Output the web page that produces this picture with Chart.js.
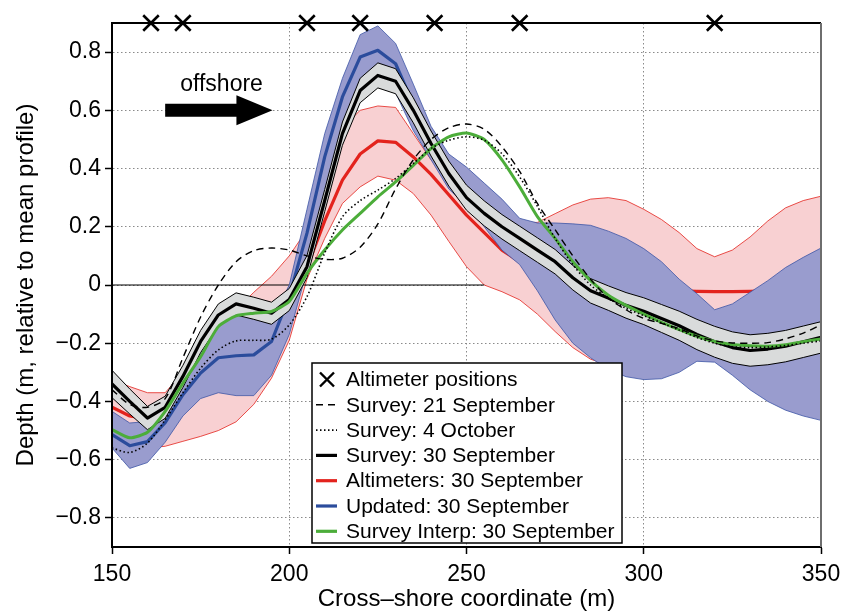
<!DOCTYPE html>
<html>
<head>
<meta charset="utf-8">
<title>Cross-shore depth profiles</title>
<script src="https://cdn.jsdelivr.net/npm/chart.js@4.4.1/dist/chart.umd.min.js"></script>
<style>
  html, body { margin: 0; padding: 0; background: #fff; }
  #wrap { width: 842px; height: 615px; }
</style>
</head>
<body>
<div id="wrap"><canvas id="profile"></canvas></div>
<script>
// cross-shore positions (m) of the profile samples
const xPos = [150, 155, 160, 165, 170, 175, 180, 185, 190, 195,
              200, 205, 210, 215, 220, 225, 230, 235, 240, 245,
              250, 255, 260, 265, 270, 275, 280, 285, 290, 295,
              300, 305, 310, 315, 320, 325, 330, 335, 340, 345, 350];
const altimeterX = [161, 170, 205, 220, 241, 265, 320];
const xTicks = [150, 200, 250, 300, 350];
const yTicks = [-0.8, -0.6, -0.4, -0.2, 0, 0.2, 0.4, 0.6, 0.8];

// depth relative to mean profile (m)
const survey21Sep = [-0.36, -0.41, -0.42, -0.39, -0.25, -0.11, 0.0, 0.08, 0.118, 0.127,
                     0.12, 0.1, 0.088, 0.092, 0.13, 0.21, 0.33, 0.43, 0.5, 0.54,
                     0.553, 0.535, 0.475, 0.39, 0.28, 0.19, 0.1, 0.02, -0.045, -0.085,
                     -0.115, -0.132, -0.15, -0.175, -0.192, -0.199, -0.2, -0.198, -0.185, -0.165, -0.137];
const survey4Oct = [-0.56, -0.575, -0.543, -0.463, -0.37, -0.286, -0.223, -0.192, -0.19, -0.186,
                    -0.137, -0.04, 0.11, 0.234, 0.29, 0.326, 0.366, 0.417, 0.469, 0.497,
                    0.509, 0.497, 0.451, 0.371, 0.27, 0.16, 0.07, 0.0, -0.045, -0.08,
                    -0.105, -0.13, -0.155, -0.18, -0.2, -0.212, -0.215, -0.213, -0.208, -0.2, -0.192];
const survey30Sep = [-0.34, -0.40, -0.457, -0.42, -0.314, -0.194, -0.103, -0.065, -0.08, -0.097,
                     -0.05, 0.063, 0.29, 0.52, 0.668, 0.72, 0.70, 0.60, 0.486, 0.383,
                     0.30, 0.246, 0.2, 0.16, 0.12, 0.08, 0.025, -0.02, -0.045, -0.07,
                     -0.09, -0.115, -0.14, -0.17, -0.195, -0.215, -0.225, -0.22, -0.21, -0.195, -0.18];
const surveyErr = [0.047, 0.043, 0.04, 0.038, 0.038, 0.038, 0.038, 0.038, 0.038, 0.038,
                   0.038, 0.038, 0.038, 0.04, 0.042, 0.043, 0.043, 0.043, 0.043, 0.043,
                   0.043, 0.043, 0.042, 0.042, 0.042, 0.042, 0.042, 0.042, 0.042, 0.044,
                   0.046, 0.048, 0.05, 0.052, 0.053, 0.054, 0.054, 0.054, 0.054, 0.054, 0.054];
const altimeters = [-0.42, -0.45, -0.46, -0.42, -0.32, -0.2, -0.11, -0.07, -0.08, -0.09,
                    -0.05, 0.06, 0.22, 0.36, 0.45, 0.495, 0.49, 0.44, 0.38, 0.31,
                    0.24, 0.18, 0.12, 0.08, 0.04, 0.01, -0.01, -0.02, -0.02, -0.02,
                    -0.02, -0.02, -0.02, -0.022, -0.023, -0.023, -0.022, -0.02, -0.02, -0.02, -0.02];
const altUpper = [-0.326, -0.349, -0.37, -0.37, -0.3, -0.22, -0.15, -0.085, -0.025, 0.03,
                  0.1, 0.19, 0.36, 0.54, 0.6, 0.615, 0.61, 0.52, 0.43, 0.36,
                  0.3, 0.26, 0.23, 0.215, 0.215, 0.245, 0.275, 0.295, 0.3, 0.29,
                  0.26, 0.225, 0.18, 0.125, 0.097, 0.12, 0.165, 0.22, 0.265, 0.29, 0.305];
const altLower = [-0.48, -0.53, -0.56, -0.554, -0.537, -0.52, -0.5, -0.47, -0.41, -0.32,
                  -0.19, 0.02, 0.16, 0.28, 0.337, 0.374, 0.36, 0.314, 0.24, 0.15,
                  0.063, 0.0, -0.023, -0.051, -0.1, -0.16, -0.215, -0.255, -0.275, -0.28,
                  -0.28, -0.27, -0.25, -0.23, -0.22, -0.22, -0.22, -0.22, -0.22, -0.22, -0.22];
const updated = [-0.514, -0.552, -0.538, -0.473, -0.377, -0.302, -0.25, -0.243, -0.24, -0.194,
                 -0.04, 0.178, 0.44, 0.646, 0.783, 0.806, 0.76, 0.62, 0.5, 0.39,
                 0.3, 0.24, 0.2, 0.16, 0.12, 0.08, 0.03, -0.02, -0.05, -0.075,
                 -0.095, -0.12, -0.145, -0.17, -0.19, -0.21, -0.22, -0.215, -0.205, -0.19, -0.175];
const updUpper = [-0.434, -0.474, -0.469, -0.45, -0.35, -0.23, -0.14, -0.1, -0.11, -0.12,
                  0.0, 0.26, 0.52, 0.71, 0.86, 0.89, 0.83, 0.69, 0.545, 0.45,
                  0.405, 0.35, 0.295, 0.229, 0.213, 0.213, 0.21, 0.205, 0.185, 0.16,
                  0.125, 0.08, 0.02, -0.03, -0.085, -0.065, -0.025, 0.015, 0.06, 0.095, 0.127];
const updLower = [-0.56, -0.63, -0.61, -0.54, -0.45, -0.39, -0.37, -0.38, -0.38, -0.31,
                  -0.17, 0.05, 0.3, 0.52, 0.66, 0.69, 0.66, 0.53, 0.43, 0.33,
                  0.27, 0.2, 0.12, 0.07, -0.02, -0.12, -0.2, -0.25, -0.29, -0.315,
                  -0.325, -0.322, -0.3, -0.262, -0.265, -0.31, -0.36, -0.4, -0.43, -0.45, -0.465];
const surveyInterp = [-0.497, -0.525, -0.506, -0.434, -0.337, -0.246, -0.143, -0.106, -0.097, -0.091,
                      -0.057, 0.04, 0.12, 0.189, 0.246, 0.303, 0.354, 0.411, 0.469, 0.509,
                      0.522, 0.5, 0.43, 0.337, 0.235, 0.16, 0.08, 0.015, -0.035, -0.07,
                      -0.1, -0.128, -0.153, -0.176, -0.194, -0.204, -0.209, -0.21, -0.205, -0.195, -0.185];
const zeroLineX = [150, 255];

const legendLabels = ['Altimeter positions', 'Survey: 21 September', 'Survey: 4 October',
  'Survey: 30 September', 'Altimeters: 30 September', 'Updated: 30 September',
  'Survey Interp: 30 September'];

const FONT = "'Liberation Sans', Arial, Helvetica, sans-serif";
Chart.defaults.font.family = FONT;
Chart.defaults.color = '#000';

const RED = '#e3231d', BLUE = '#2b4c9c', GREEN = '#4cad3a';

const pts = ys => ys.map((y, i) => ({ x: xPos[i], y }));
const plusErr = (c, e, s) => c.map((v, i) => v + s * e[i]);

function line(label, ys, extra) {
  return Object.assign({
    label, data: pts(ys), pointRadius: 0, fill: false, tension: 0,
    borderJoinStyle: 'round', borderCapStyle: 'round'
  }, extra);
}

const datasets = [
  // altimeter band (pink)
  line('altUpper', altUpper, { borderColor: RED, borderWidth: 0.8, backgroundColor: 'rgb(248,208,210)', fill: '+1', order: 100 }),
  line('altLower', altLower, { borderColor: RED, borderWidth: 0.8, order: 99 }),
  { label: 'zero', data: zeroLineX.map(x => ({ x, y: 0 })), borderColor: '#000', borderWidth: 1.2, pointRadius: 0, fill: false, order: 95 },
  line('Altimeters: 30 September', altimeters, { borderColor: RED, borderWidth: 3.2, order: 90 }),
  // updated band (blue)
  line('updUpper', updUpper, { borderColor: '#3d56a6', borderWidth: 0.8, backgroundColor: 'rgb(153,156,206)', fill: '+1', order: 80 }),
  line('updLower', updLower, { borderColor: '#3d56a6', borderWidth: 0.8, order: 79 }),
  line('Updated: 30 September', updated, { borderColor: BLUE, borderWidth: 3.2, order: 70 }),
  // survey band (grey)
  line('surveyUpper', plusErr(survey30Sep, surveyErr, 1), { borderColor: '#000', borderWidth: 1, backgroundColor: '#d9dbdb', fill: '+1', order: 60 }),
  line('surveyLower', plusErr(survey30Sep, surveyErr, -1), { borderColor: '#000', borderWidth: 1, order: 59 }),
  line('Survey: 30 September', survey30Sep, { borderColor: '#000', borderWidth: 3.2, order: 50 }),
  line('Survey Interp: 30 September', surveyInterp, { borderColor: GREEN, borderWidth: 3, tension: 0.2, order: 40 }),
  line('Survey: 4 October', survey4Oct, { borderColor: '#000', borderWidth: 1.6, borderDash: [1.5, 2.5], borderCapStyle: 'butt', tension: 0.3, order: 30 }),
  line('Survey: 21 September', survey21Sep, { borderColor: '#000', borderWidth: 1.4, borderDash: [7, 5], borderCapStyle: 'butt', tension: 0.3, order: 20 }),
  {
    label: 'Altimeter positions', data: altimeterX.map(x => ({ x, y: 0.9 })),
    showLine: false, pointStyle: 'crossRot', pointRadius: 11, pointBorderWidth: 2.6,
    borderColor: '#000', pointBorderColor: '#000', clip: false, order: 10
  }
];

// frame, arrow and "offshore" note over the data
const decorations = {
  id: 'decorations',
  afterDatasetsDraw(chart) {
    const { ctx, chartArea: a, scales: { x, y } } = chart;
    ctx.save();
    ctx.lineWidth = 2;
    ctx.strokeStyle = '#000';
    ctx.beginPath();
    ctx.moveTo(a.left, a.top); ctx.lineTo(a.right, a.top);
    ctx.moveTo(a.left, a.top); ctx.lineTo(a.left, a.bottom); ctx.lineTo(a.right, a.bottom);
    ctx.stroke();
    ctx.strokeStyle = '#6e6e6e';
    ctx.beginPath(); ctx.moveTo(a.right, a.top); ctx.lineTo(a.right, a.bottom); ctx.stroke();

    // offshore arrow
    const x0 = x.getPixelForValue(165), xb = x.getPixelForValue(185.1), xt = x.getPixelForValue(195.3);
    const yc = y.getPixelForValue(0.6);
    ctx.fillStyle = '#000';
    ctx.beginPath();
    ctx.moveTo(x0, yc - 6.5); ctx.lineTo(xb, yc - 6.5); ctx.lineTo(xb, yc - 15);
    ctx.lineTo(xt, yc); ctx.lineTo(xb, yc + 15); ctx.lineTo(xb, yc + 6.5);
    ctx.lineTo(x0, yc + 6.5); ctx.closePath(); ctx.fill();
    ctx.font = '23px ' + FONT;
    ctx.textAlign = 'center';
    ctx.textBaseline = 'alphabetic';
    ctx.fillText('offshore', x.getPixelForValue(180.9), y.getPixelForValue(0.668));
    ctx.restore();
  }
};

// legend box inside the plot area
const legendBox = {
  id: 'legendBox',
  afterDraw(chart) {
    const ctx = chart.ctx;
    const bx = 312, by = 363, bw = 310, bh = 180;
    ctx.save();
    ctx.fillStyle = '#fff';
    ctx.fillRect(bx, by, bw, bh);
    ctx.strokeStyle = '#000';
    ctx.lineWidth = 1.5;
    ctx.strokeRect(bx, by, bw, bh);
    ctx.font = '21px ' + FONT;
    ctx.textBaseline = 'middle';
    ctx.textAlign = 'left';
    legendLabels.forEach((lab, i) => {
      const yy = by + 16.5 + i * 25.3;
      const ds = chart.data.datasets.find(d => d.label === lab);
      ctx.save();
      ctx.strokeStyle = ds.borderColor;
      if (ds.pointStyle === 'crossRot') {
        ctx.lineWidth = 2.4;
        ctx.beginPath();
        ctx.moveTo(320, yy - 7); ctx.lineTo(334, yy + 7);
        ctx.moveTo(334, yy - 7); ctx.lineTo(320, yy + 7);
        ctx.stroke();
      } else {
        ctx.lineWidth = ds.borderDash ? ds.borderWidth : 3.2;
        ctx.setLineDash(ds.borderDash || []);
        ctx.beginPath();
        ctx.moveTo(316, yy); ctx.lineTo(337, yy);
        ctx.stroke();
      }
      ctx.restore();
      ctx.fillStyle = '#000';
      ctx.fillText(lab, 346, yy + 1);
    });
    ctx.restore();
  }
};

const fmt = v => (v === 0 ? '0' : (v < 0 ? '\u2212' : '') + Math.abs(v).toFixed(1));

new Chart(document.getElementById('profile'), {
  type: 'line',
  data: { datasets },
  options: {
    responsive: true,
    maintainAspectRatio: false,
    animation: false,
    layout: { padding: { top: 23, right: 21, left: 0, bottom: 0 } },
    plugins: { legend: { display: false }, tooltip: { enabled: false } },
    scales: {
      x: {
        type: 'linear', min: 150, max: 350,
        afterBuildTicks: s => { s.ticks = xTicks.map(v => ({ value: v })); },
        // fixed axis height; end labels may overhang the plot edges
        afterFit: s => { s.height = 68; s.paddingLeft = 0; s.paddingRight = 0; },
        ticks: { font: { size: 23 }, padding: 7, callback: v => String(v), maxRotation: 0 },
        grid: { color: '#8a8a8a', lineWidth: 1, tickLength: 7, tickColor: '#000', tickWidth: 1.5 },
        border: { color: '#000', width: 2, dash: [1.5, 2.5] },
        title: { display: true, text: 'Cross\u2013shore coordinate (m)', font: { size: 24 }, padding: { bottom: 1, top: 0 } }
      },
      y: {
        min: -0.9, max: 0.9,
        afterBuildTicks: s => { s.ticks = yTicks.map(v => ({ value: v })); },
        afterFit: s => { s.width = 112; },
        ticks: { font: { size: 23 }, padding: 4, callback: fmt },
        grid: { color: '#8a8a8a', lineWidth: 1, tickLength: 7, tickColor: '#000', tickWidth: 1.5 },
        border: { color: '#000', width: 2, dash: [1.5, 2.5] },
        title: { display: true, text: 'Depth (m, relative to mean profile)', font: { size: 24 }, padding: { top: 12, bottom: 0 } }
      }
    }
  },
  plugins: [decorations, legendBox]
});
</script>
</body>
</html>
